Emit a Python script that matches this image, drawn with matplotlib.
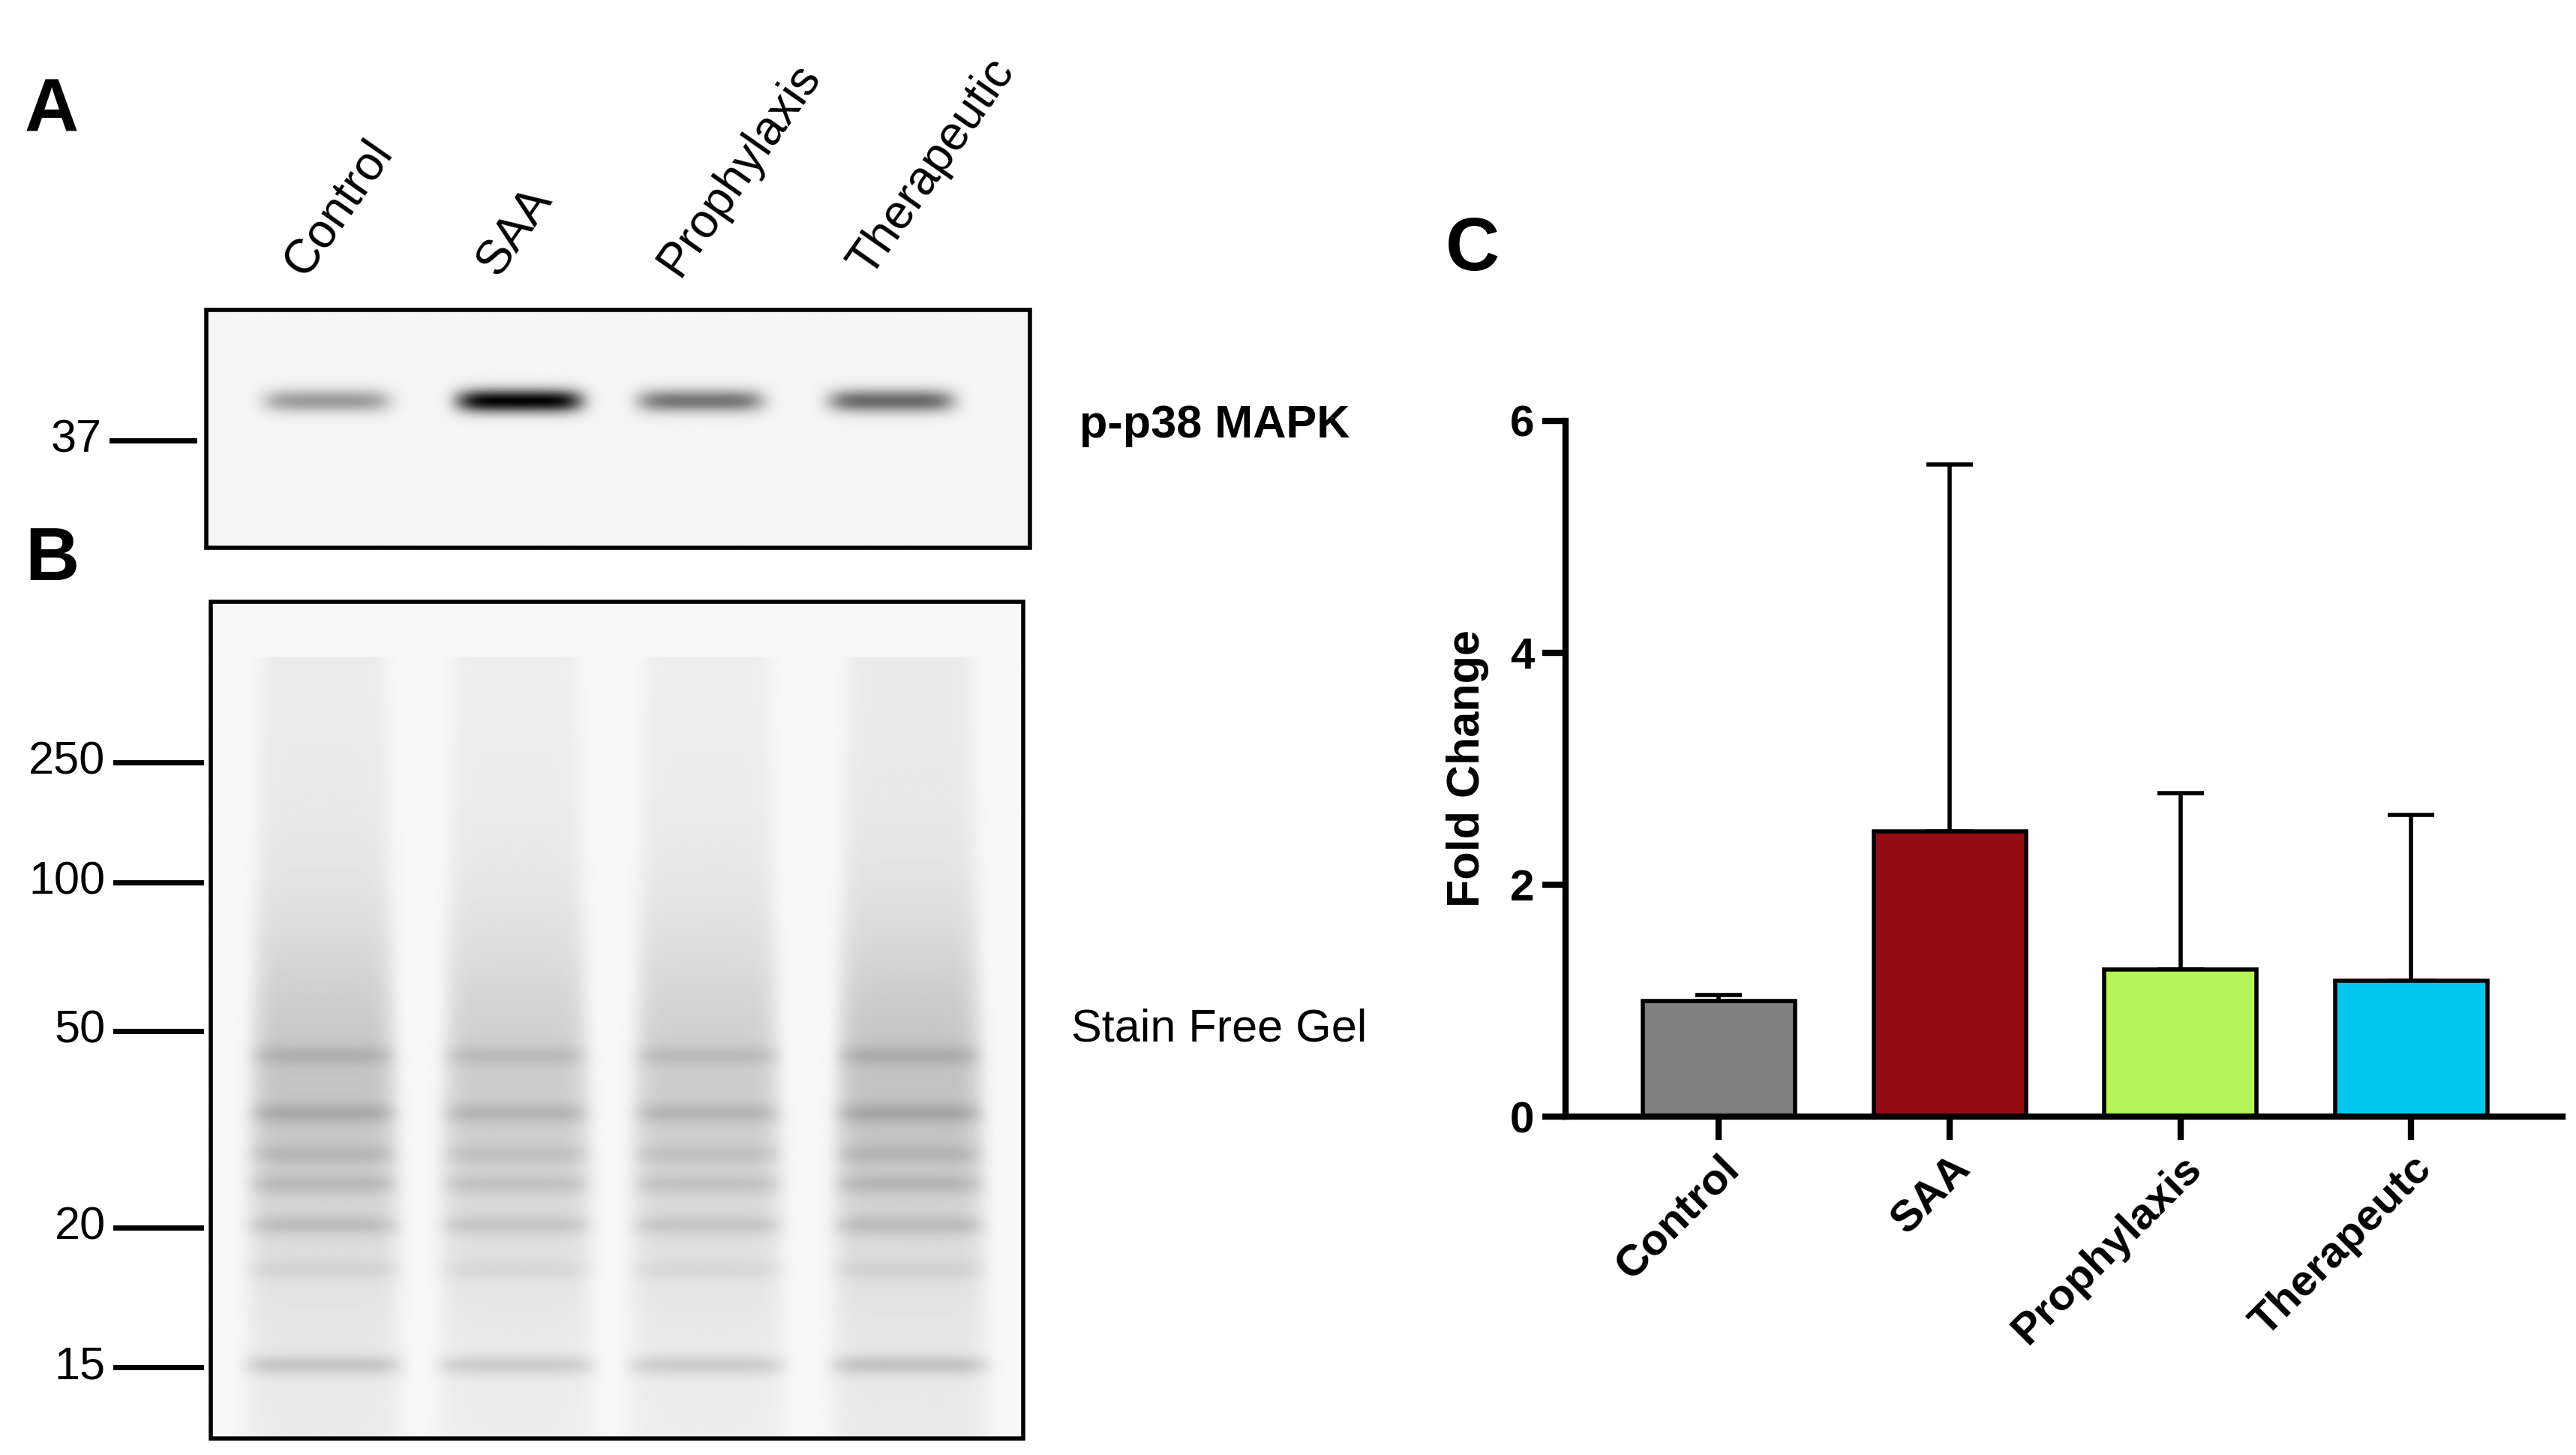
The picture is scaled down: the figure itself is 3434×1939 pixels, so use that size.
import numpy as np
import matplotlib.pyplot as plt

plt.rcParams['font.family'] = ['Liberation Sans', 'DejaVu Sans']

# Panel C data
groups = ["Control", "SAA", "Prophylaxis", "Therapeutc"]
fold_change = [1.0, 2.46, 1.27, 1.17]
fold_err = [0.05, 3.16, 1.52, 1.43]
bar_colors = ["#808080", "#960c14", "#b5f55a", "#00c8f0"]

# blot lanes / labels
lane_names = ["Control", "SAA", "Prophylaxis", "Therapeutic"]
pp38_strength = [0.35, 0.95, 0.5, 0.55]
gel_strength = [1.0, 0.85, 0.85, 1.05]
gel_markers = ["250", "100", "50", "20", "15"]
gel_marker_y = [462, 535, 625, 744, 829]
gel_band_y = [640, 675, 700, 718, 743, 770, 828]
gel_band_w = [0.35, 0.45, 0.3, 0.35, 0.4, 0.2, 0.55]

W, H = 1563, 882
fig = plt.figure(figsize=(34.34, 19.39), dpi=100)
ov = fig.add_axes([0, 0, 1, 1])
ov.set_xlim(0, W)
ov.set_ylim(H, 0)
ov.axis("off")

# ---- panel A blot image
ax0, ax1, ay0, ay1 = 125, 625, 188, 332
xs = np.linspace(ax0, ax1, 500)
ys = np.linspace(ay0, ay1, 150)
X, Y = np.meshgrid(xs, ys)
img = np.full(X.shape, 0.04)
a_centers = [198, 315, 425, 541]
for c, s in zip(a_centers, pp38_strength):
    img += s * np.exp(-((X - c) / 38) ** 6) * np.exp(-((Y - 243) / 7) ** 2)
ov.imshow(1 - np.clip(img, 0, 1), cmap="gray", vmin=0, vmax=1,
          extent=[ax0, ax1, ay1, ay0], aspect="auto", zorder=1)
ov.add_patch(plt.Rectangle((ax0, ay0), ax1 - ax0, ay1 - ay0, fill=False, lw=4, ec="black", zorder=3))

# ---- panel B gel image
bx0, bx1, by0, by1 = 128, 621, 365, 872
xs = np.linspace(bx0, bx1, 500)
ys = np.linspace(by0, by1, 500)
X, Y = np.meshgrid(xs, ys)
gimg = np.full(X.shape, 0.03)
b_centers = [196, 313, 429, 552]
for c, s in zip(b_centers, gel_strength):
    half = 38 + 10 * (Y - by0) / (by1 - by0)
    mask = np.exp(-(np.abs(X - c) / half) ** 8) * (Y > 398)
    prof = 0.05 + 0.15 * np.exp(-((Y - 660) / 100) ** 2)
    for by, bw in zip(gel_band_y, gel_band_w):
        prof = prof + 0.25 * bw * np.exp(-((Y - by) / 6) ** 2)
    gimg += s * mask * prof
ov.imshow(1 - np.clip(gimg, 0, 1), cmap="gray", vmin=0, vmax=1,
          extent=[bx0, bx1, by1, by0], aspect="auto", zorder=1)
ov.add_patch(plt.Rectangle((bx0, by0), bx1 - bx0, by1 - by0, fill=False, lw=4, ec="black", zorder=3))

for c, name in zip(a_centers, lane_names):
    ov.text(c - 8, 172, name, rotation=55, ha="left", va="bottom", fontsize=46,
            rotation_mode="anchor")
ov.plot([68, 118], [267, 267], color="black", lw=5)
ov.text(62, 267, "37", ha="right", va="center", fontsize=44)
for m, y in zip(gel_markers, gel_marker_y):
    ov.plot([70, 122], [y, y], color="black", lw=5)
    ov.text(64, y, m, ha="right", va="center", fontsize=44)
ov.text(655, 258, "p-p38 MAPK", ha="left", va="center", fontsize=44, weight="bold")
ov.text(650, 624, "Stain Free Gel", ha="left", va="center", fontsize=44)
ov.text(15, 68, "A", fontsize=72, weight="bold", va="center")
ov.text(15, 340, "B", fontsize=72, weight="bold", va="center")
ov.text(877, 152, "C", fontsize=72, weight="bold", va="center")

# ---- panel C bar chart
ax = fig.add_axes([950 / W, 1 - 677 / H, (1555 - 950) / W, (677 - 255) / H])
x = np.arange(len(groups))
ax.bar(x, fold_change, width=0.66, color=bar_colors, edgecolor="black", linewidth=4, zorder=2)
ax.errorbar(x, fold_change, yerr=[np.zeros(4), fold_err], fmt="none", ecolor="black",
            elinewidth=4, capsize=22, capthick=4, zorder=1)
ax.set_xlim(-0.664, 3.657)
ax.set_ylim(0, 6)
ax.set_yticks([0, 2, 4, 6])
ax.spines[["top", "right"]].set_visible(False)
ax.spines[["left", "bottom"]].set_linewidth(6)
ax.tick_params(width=6, length=22, labelsize=42, pad=8)
for t in ax.get_yticklabels():
    t.set_fontweight("bold")
ax.set_xticks(x)
ax.set_xticklabels(groups, rotation=45, ha="right", rotation_mode="anchor",
                   fontsize=42, fontweight="bold")
ax.set_ylabel("Fold Change", fontsize=44, fontweight="bold", labelpad=20)
ax.patch.set_alpha(0)

fig.savefig("out.png", dpi=100)
